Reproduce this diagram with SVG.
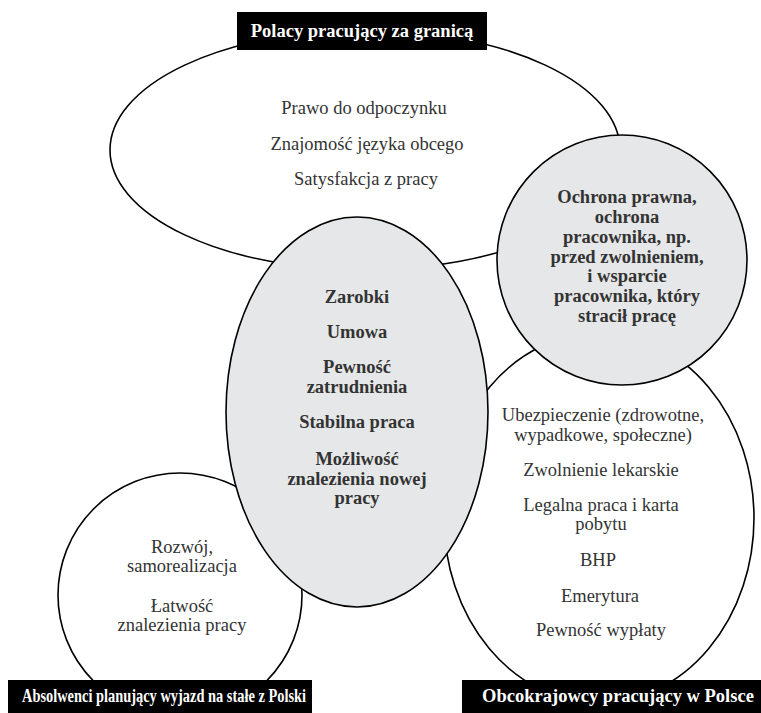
<svg xmlns="http://www.w3.org/2000/svg" width="761" height="713" viewBox="0 0 761 713">
<style>
.w{fill:#fff;stroke:#000;stroke-width:1.6}
.g{fill:#e6e7e8;stroke:#000;stroke-width:1.6}
.t{font-family:"Liberation Serif","Times New Roman",serif;font-size:18.5px;fill:#333;text-anchor:middle}
.b{font-weight:bold}
.box{fill:#000}
.lbl{font-family:"Liberation Serif","Times New Roman",serif;font-size:18.5px;font-weight:bold;fill:#fff;text-anchor:middle}
.lb2{font-size:19.5px}
</style>
<rect width="761" height="713" fill="#fff"/>
<g id="polacy">
<ellipse class="w" cx="365" cy="150" rx="255" ry="120"/>
<text class="t" x="364" y="114">Prawo do odpoczynku</text>
<text class="t" x="367" y="150">Znajomość języka obcego</text>
<text class="t" x="366" y="185">Satysfakcja z pracy</text>
</g>
<g id="absolwenci">
<circle class="w" cx="180" cy="595" r="122"/>
<text class="t" x="182" y="553">Rozwój,</text>
<text class="t" x="182" y="572">samorealizacja</text>
<text class="t" x="182" y="612">Łatwość</text>
<text class="t" x="182" y="631">znalezienia pracy</text>
</g>
<g id="obcokrajowcy">
<ellipse class="w" cx="599" cy="518" rx="155" ry="185"/>
<text class="t" x="603" y="421">Ubezpieczenie (zdrowotne,</text>
<text class="t" x="603" y="441">wypadkowe, społeczne)</text>
<text class="t" x="601" y="476">Zwolnienie lekarskie</text>
<text class="t" x="601" y="511">Legalna praca i karta</text>
<text class="t" x="601" y="530">pobytu</text>
<text class="t" x="598" y="566">BHP</text>
<text class="t" x="600" y="602">Emerytura</text>
<text class="t" x="601" y="636">Pewność wypłaty</text>
</g>
<g id="ochrona">
<circle class="g" cx="622" cy="260" r="125"/>
<text class="t b" x="627" y="203">Ochrona prawna,</text>
<text class="t b" x="627" y="223">ochrona</text>
<text class="t b" x="627" y="243">pracownika, np.</text>
<text class="t b" x="627" y="263">przed zwolnieniem,</text>
<text class="t b" x="627" y="282">i wsparcie</text>
<text class="t b" x="627" y="302">pracownika, który</text>
<text class="t b" x="627" y="322">stracił pracę</text>
</g>
<g id="wspolne">
<ellipse class="g" cx="357" cy="412" rx="131" ry="195"/>
<text class="t b" x="357" y="303">Zarobki</text>
<text class="t b" x="357" y="338">Umowa</text>
<text class="t b" x="357" y="373">Pewność</text>
<text class="t b" x="357" y="393">zatrudnienia</text>
<text class="t b" x="357" y="428">Stabilna praca</text>
<text class="t b" x="357" y="465">Możliwość</text>
<text class="t b" x="357" y="485">znalezienia nowej</text>
<text class="t b" x="357" y="504">pracy</text>
</g>
<g id="label-polacy">
<rect class="box" x="237" y="12" width="250" height="38"/>
<text class="lbl" x="362" y="37">Polacy pracujący za granicą</text>
</g>
<g id="label-absolwenci">
<rect class="box" x="8" y="680" width="304" height="33"/>
<text class="lbl lb2" x="164" y="702" textLength="284" lengthAdjust="spacingAndGlyphs">Absolwenci planujący wyjazd na stałe z Polski</text>
</g>
<g id="label-obcokrajowcy">
<rect class="box" x="462" y="680" width="299" height="33"/>
<text class="lbl" x="618" y="702">Obcokrajowcy pracujący w Polsce</text>
</g>
</svg>
